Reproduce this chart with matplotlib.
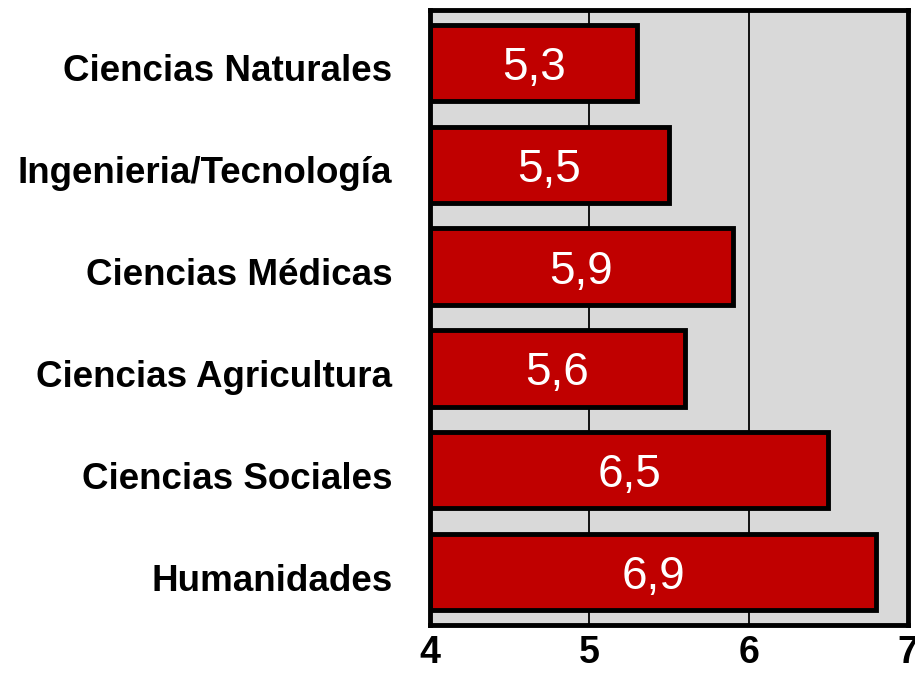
import matplotlib
matplotlib.use("Agg")
import matplotlib.pyplot as plt
import matplotlib.transforms as mtransforms

plt.rcParams['font.family'] = ['Liberation Sans', 'DejaVu Sans']

categorias = ["Ciencias Naturales", "Ingenieria/Tecnología", "Ciencias Médicas",
              "Ciencias Agricultura", "Ciencias Sociales", "Humanidades"]
valores = [5.3, 5.5, 5.9, 5.6, 6.5, 6.8]
etiquetas = ["5,3", "5,5", "5,9", "5,6", "6,5", "6,9"]
ticks_x = [4, 5, 6, 7]

fig = plt.figure(figsize=(9.15, 6.73), dpi=100)
ax = fig.add_axes([430 / 915, 48 / 673, 478 / 915, 615 / 673])
ax.set_facecolor('#d9d9d9')

pos = list(range(len(categorias)))
base = 4
ax.barh(pos, [v - base for v in valores], left=base, height=0.75,
        color='#c00000', edgecolor='black', linewidth=3.5, zorder=3)

for p, v, t in zip(pos, valores, etiquetas):
    ax.text((base + v) / 2, p, t, ha='center', va='center_baseline', color='white',
            fontsize=33, zorder=4)

ax.set_xlim(4, 7)
ax.set_ylim(5.52, -0.52)
ax.set_xticks(ticks_x)
ax.set_xticklabels([str(t) for t in ticks_x], fontsize=27, fontweight='bold')
ax.set_yticks(pos)
ax.set_yticklabels(categorias, fontsize=26.5, fontweight='bold')
ax.tick_params(axis='both', length=0)
ax.tick_params(axis='y', pad=27)
ax.tick_params(axis='x', pad=7)

# etiquetas de categoría un poco más abajo
desplaz = mtransforms.ScaledTranslation(0, -5 / 100, fig.dpi_scale_trans)
for lab in ax.get_yticklabels():
    lab.set_transform(lab.get_transform() + desplaz)

ax.xaxis.grid(True, color='black', linewidth=1.3, zorder=1)
ax.set_axisbelow(True)
for s in ax.spines.values():
    s.set_linewidth(3.5)
    s.set_zorder(5)

fig.savefig('out.png', dpi=100)
